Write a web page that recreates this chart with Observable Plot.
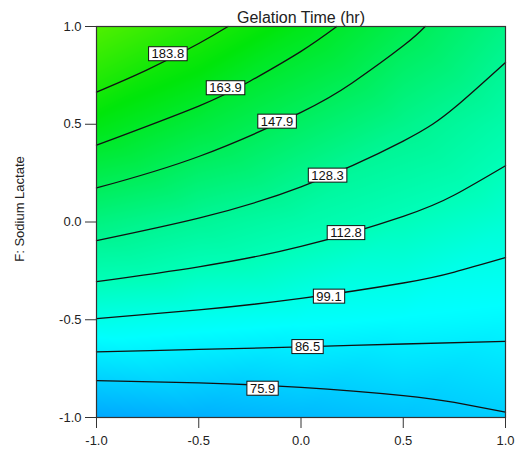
<!DOCTYPE html>
<html>
<head>
<meta charset="utf-8">
<script src="https://cdn.jsdelivr.net/npm/d3@7"></script>
<script src="https://cdn.jsdelivr.net/npm/@observablehq/plot@0.6"></script>
<style>
  html, body { margin: 0; padding: 0; background: #fff; }
  #chart { width: 519px; height: 454px; }
</style>
</head>
<body>
<div id="chart"></div>
<script>
// ---- data ----
const chartTitle = "Gelation Time (hr)";
const yTitle = "F: Sodium Lactate";
const xTicks = [-1, -0.5, 0, 0.5, 1];
const yTicks = [-1, -0.5, 0, 0.5, 1];

// estimated response values on a coarse grid (rows: y = 1 ... -1; columns: x = -1 ... 1)
const gridX = [-1, -0.5, 0, 0.5, 1];
const gridY = [1, 0.5, 0, -0.5, -1];
const gridValues = [
  [208.3, 189.2, 170.4, 151.9, 133.7],
  [171.8, 158.1, 144.8, 131.8, 119.1],
  [135.2, 127.1, 119.2, 111.7, 104.4],
  [98.7, 96.0, 93.6, 91.5, 89.8],
  [62.1, 64.9, 68.0, 71.4, 75.1]
];

// contour levels and their traced paths [x, y]
const levels = [75.9, 86.5, 99.1, 112.8, 128.3, 147.9, 163.9, 183.8];
const contour759 = [[-1, -0.811], [-0.5, -0.823], [0, -0.846], [0.5, -0.888], [0.75, -0.923], [1, -0.973]];
const contour865 = [[-1, -0.664], [-0.5, -0.652], [0, -0.639], [0.5, -0.624], [1, -0.611]];
const contour991 = [[-1, -0.494], [-0.5, -0.450], [0, -0.391], [0.5, -0.312], [0.75, -0.256], [1, -0.182]];
const contour1128 = [[-1, -0.305], [-0.5, -0.229], [0, -0.125], [0.5, 0.029], [0.75, 0.138], [1, 0.288]];
const contour1283 = [[-1, -0.095], [-0.5, 0.020], [0, 0.180], [0.5, 0.414], [0.75, 0.584], [1, 0.816]];
const contour1479 = [[-1, 0.174], [-0.5, 0.335], [0, 0.561], [0.25, 0.711], [0.5, 0.901], [0.607, 1.0]];
const contour1639 = [[-1, 0.393], [-0.5, 0.593], [-0.25, 0.720], [0, 0.873], [0.175, 1.0]];
const contour1838 = [[-1, 0.664], [-0.75, 0.779], [-0.5, 0.913], [-0.357, 1.0]];
const contourPaths = [contour759, contour865, contour991, contour1128, contour1283, contour1479, contour1639, contour1838];

// label positions (box centres)
const labelX = [-0.188, 0.032, 0.137, 0.220, 0.130, -0.117, -0.369, -0.651];
const labelY = [-0.852, -0.639, -0.381, -0.056, 0.238, 0.514, 0.685, 0.859];

// ---- tables built from the arrays ----
const gridTable = [];
gridY.forEach((y, i) => gridX.forEach((x, j) => gridTable.push({x, y, v: gridValues[i][j]})));
const lineTable = [];
contourPaths.forEach((path, k) => path.forEach(([x, y]) => lineTable.push({level: levels[k], x, y})));
const labelTable = levels.map((lv, i) => ({x: labelX[i], y: labelY[i], text: lv.toFixed(1)}));

const fmt = d => d.toFixed(1);
const font = "'Liberation Sans', Arial, Helvetica, sans-serif";

const svg = Plot.plot({
  width: 519,
  height: 454,
  marginLeft: 96,
  marginRight: 14,
  marginTop: 26,
  marginBottom: 37,
  style: {fontFamily: font, fontSize: "13px", color: "#222", background: "#fff"},
  x: {domain: [-1, 1]},
  y: {domain: [-1, 1]},
  color: {
    type: "linear",
    domain: [60, 92, 112, 130, 150, 175, 210],
    range: ["#00a2ff", "#00ffff", "#00ffbb", "#00f590", "#00ee55", "#00e60a", "#55f000"],
    interpolate: "rgb"
  },
  marks: [
    Plot.raster(gridTable, {x: "x", y: "y", fill: "v", interpolate: "barycentric", x1: -1, x2: 1, y1: -1, y2: 1, pixelSize: 1}),
    Plot.line(lineTable, {x: "x", y: "y", z: "level", stroke: "#111", strokeWidth: 1.3, curve: "natural"}),
    Plot.frame({stroke: "#333", strokeWidth: 1.2}),
    Plot.text(labelTable, {x: "x", y: "y", text: "text", fill: "#111", fontSize: 13, textAnchor: "middle", lineAnchor: "middle"}),
    Plot.axisX({ticks: xTicks, tickFormat: fmt, tickSize: 11, tickPadding: 7, label: null, stroke: "#333", fill: "#222"}),
    Plot.axisY({ticks: yTicks, tickFormat: fmt, tickSize: 11, tickPadding: 4, label: null, stroke: "#333", fill: "#222"}),
    Plot.text([chartTitle], {frameAnchor: "top", textAnchor: "middle", lineAnchor: "middle", dy: -9, fontSize: 16, fill: "#222"}),
    Plot.text([yTitle], {frameAnchor: "left", textAnchor: "middle", lineAnchor: "middle", rotate: -90, dx: -77, dy: -13, fontSize: 13, fill: "#222"})
  ]
});

document.getElementById("chart").append(svg);

// white boxed labels behind contour values
const labelSet = new Set(labelTable.map(d => d.text));
Array.from(svg.querySelectorAll("text"))
  .filter(t => labelSet.has(t.textContent.trim()))
  .forEach(t => {
    const b = t.getBBox();
    const r = document.createElementNS("http://www.w3.org/2000/svg", "rect");
    r.setAttribute("x", b.x - 3);
    r.setAttribute("y", b.y + 0.5);
    r.setAttribute("width", b.width + 6);
    r.setAttribute("height", b.height - 1);
    r.setAttribute("fill", "#fff");
    r.setAttribute("stroke", "#111");
    r.setAttribute("stroke-width", 1);
    const tr = t.getAttribute("transform");
    if (tr) r.setAttribute("transform", tr);
    t.parentNode.insertBefore(r, t);
  });
</script>
</body>
</html>
